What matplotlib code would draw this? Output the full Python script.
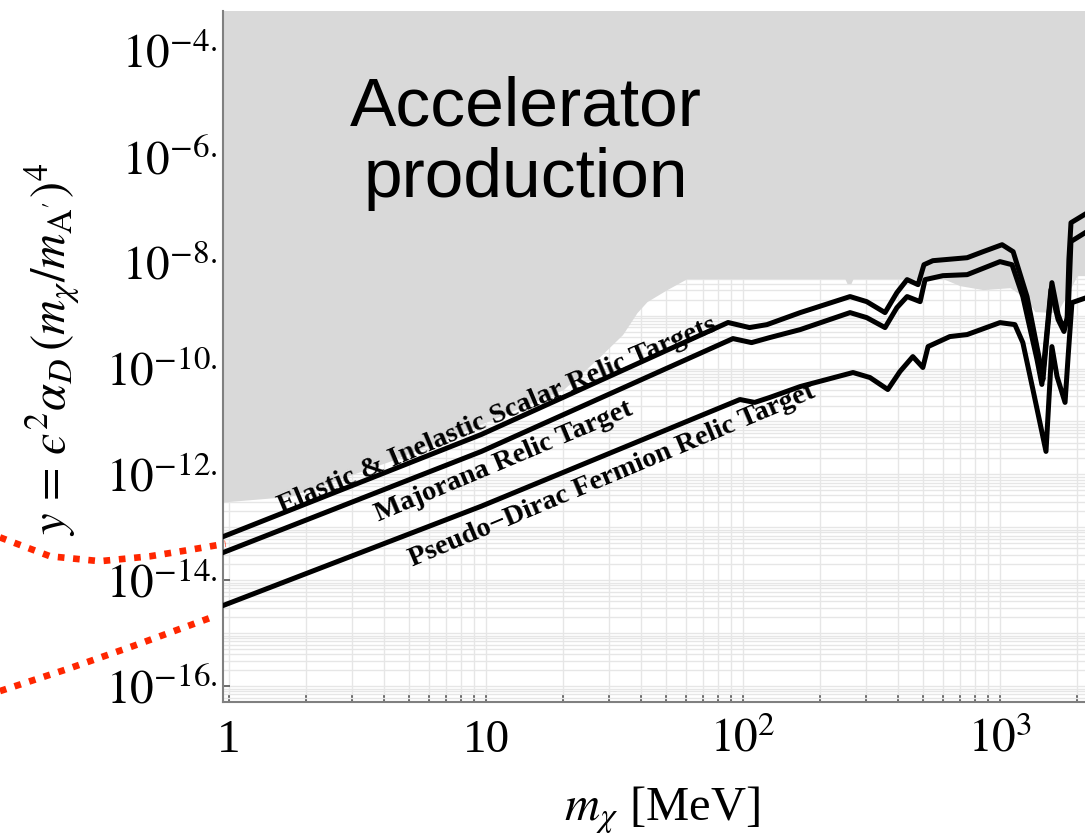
import numpy as np
import matplotlib.pyplot as plt
from matplotlib.ticker import LogLocator, NullFormatter

plt.rcParams['font.family'] = ['Liberation Serif', 'DejaVu Serif']
plt.rcParams['mathtext.fontset'] = 'stix'

# relic targets: dark matter mass [MeV] and log10(y)
m_scalar = [0.9, 9.6, 87.5, 106, 124, 167, 261, 303, 357, 397, 435, 480, 506, 548,
            745, 859, 1019, 1125, 1274, 1432, 1469, 1592, 1683, 1758, 1824, 1854,
            1889, 2200]
logy_scalar = [-13.22, -11.245, -9.13, -9.226, -9.17, -8.943, -8.64, -8.736, -8.943,
               -8.566, -8.32, -8.415, -8.038, -7.962, -7.906, -7.792, -7.66, -7.792,
               -8.64, -9.887, -10.21, -8.377, -8.98, -9.226, -9.075, -7.94, -7.245,
               -7.05]

m_majorana = [0.9, 9.6, 91.4, 108, 127, 167, 261, 303, 357, 397, 435, 489, 511, 600,
              745, 1000, 1114, 1227, 1393, 1455, 1578, 1683, 1774, 1841, 1888, 2200]
logy_majorana = [-13.52, -11.566, -9.434, -9.51, -9.415, -9.264, -8.943, -9.038,
                 -9.226, -8.85, -8.64, -8.736, -8.32, -8.245, -8.226, -7.98, -8.038,
                 -8.64, -9.83, -10.30, -8.51, -9.075, -9.30, -8.98, -7.60, -7.40]

m_pseudo = [0.9, 9.6, 97.3, 111, 127, 167, 268, 312, 366, 408, 458, 501, 525, 638,
            745, 1000, 1143, 1227, 1343, 1510, 1592, 1667, 1791, 1841, 1905, 2200]
logy_pseudo = [-14.52, -12.60, -10.585, -10.64, -10.547, -10.34, -10.075, -10.17,
               -10.396, -10.057, -9.774, -9.98, -9.585, -9.396, -9.358, -9.132, -9.17,
               -9.51, -10.396, -11.566, -9.585, -10.15, -10.64, -9.774, -8.755, -8.65]

# lower edge of the accelerator-production region
m_accel = [0.9, 1.73, 4.2, 9.5, 20, 27, 34, 38.7, 42.3, 50.6, 60.5, 249, 254, 263,
           268, 600, 698, 859, 1094, 1250, 1368, 1667, 1871, 1995, 2200]
logy_accel = [-12.53, -12.415, -11.755, -11.057, -10.396, -9.83, -9.358, -8.943,
              -8.736, -8.509, -8.302, -8.302, -8.396, -8.396, -8.302, -8.302, -8.434,
              -8.509, -8.472, -8.66, -8.925, -8.943, -8.509, -8.245, -8.245]

# red dotted curves continuing below 1 MeV
m_red_upper = [0.1285, 0.2014, 0.3148, 0.4932, 0.687, 0.97]
logy_red_upper = [-13.19, -13.547, -13.64, -13.547, -13.434, -13.31]
m_red_lower = [0.1285, 0.2344, 0.4227, 0.88]
logy_red_lower = [-16.094, -15.68, -15.245, -14.68]

x_ticks = [1, 10, 100, 1000]
x_ticklabels = ['1', '10', r'$10^2$', r'$10^3$']
y_ticks = [1e-16, 1e-14, 1e-12, 1e-10, 1e-8, 1e-6, 1e-4]
y_ticklabels = [r'$10^{-16.}$', r'$10^{-14.}$', r'$10^{-12.}$', r'$10^{-10.}$',
                r'$10^{-8.}$', r'$10^{-6.}$', r'$10^{-4.}$']

fig = plt.figure(figsize=(10.85, 8.35), dpi=100)
ax = fig.add_axes([0.2055, 0.1593, 0.7945, 0.8275])
ax.set_xscale('log')
ax.set_yscale('log')
ax.set_xlim(10 ** (-6 / 257), 10 ** (856 / 257))
ax.set_ylim(10 ** -16.30, 10 ** -3.245)

# grid first, shaded region over it
ax.set_axisbelow(True)
ax.yaxis.set_minor_locator(LogLocator(base=10, subs=np.arange(1, 10), numticks=100))
ax.yaxis.set_minor_formatter(NullFormatter())
ax.xaxis.set_minor_locator(LogLocator(base=10, subs=np.arange(2, 10), numticks=100))
ax.xaxis.set_minor_formatter(NullFormatter())
ax.grid(True, which='both', color='#e6e6e6', lw=1.0)

ax.fill_between(m_accel, 10.0 ** np.array(logy_accel), 1e-2,
                color='#d9d9d9', lw=0, zorder=1)

for m, ly in [(m_scalar, logy_scalar), (m_majorana, logy_majorana), (m_pseudo, logy_pseudo)]:
    ax.plot(m, 10.0 ** np.array(ly), color='black', lw=3.6, zorder=3,
            solid_joinstyle='round', solid_capstyle='round')

for m, ly in [(m_red_upper, logy_red_upper), (m_red_lower, logy_red_lower)]:
    ax.plot(m, 10.0 ** np.array(ly), color='#ff2600', lw=4.8, dashes=(1.0, 1.3),
            clip_on=False, zorder=4)

ax.text(0.3515, 0.835, 'Accelerator', transform=ax.transAxes, ha='center',
        va='baseline', fontsize=50, family='Liberation Sans', zorder=5)
ax.text(0.3515, 0.731, 'production', transform=ax.transAxes, ha='center',
        va='baseline', fontsize=50, family='Liberation Sans', zorder=5)

label_kw = dict(fontsize=20.5, fontweight='bold', rotation=22.8,
                rotation_mode='anchor', ha='center', va='center', zorder=5)
ax.text(11.1, 10 ** -10.887, 'Elastic & Inelastic Scalar Relic Targets', **label_kw)
ax.text(11.75, 10 ** -11.755, 'Majorana Relic Target', **label_kw)
ax.text(30.9, 10 ** -12.019, 'Pseudo\u2212Dirac Fermion Relic Target', **label_kw)

ax.set_xticks(x_ticks, x_ticklabels)
ax.set_yticks(y_ticks, y_ticklabels)
ax.tick_params(axis='both', which='both', direction='in', length=5, width=1.2,
               color='#555555')
ax.tick_params(axis='y', which='minor', length=0)
ax.tick_params(axis='y', pad=4, labelsize=34)
ax.tick_params(axis='x', pad=36, labelsize=34)
plt.setp(ax.get_xticklabels(), va='baseline')

for side in ['top', 'right']:
    ax.spines[side].set_visible(False)
for side in ['left', 'bottom']:
    ax.spines[side].set_color('#808080')
    ax.spines[side].set_linewidth(1.5)

ax.set_xlabel(r'$m_\chi$ [MeV]', fontsize=35)
ax.xaxis.set_label_coords(0.509, -0.12)
ax.set_ylabel("$y\\,=\\,\u03f5^2\\alpha_D\\,(m_\\chi/m_{\\mathrm{A}'})^4$", fontsize=35)
ax.yaxis.set_label_coords(-0.163, 0.51)

fig.savefig('out.png', dpi=100)
